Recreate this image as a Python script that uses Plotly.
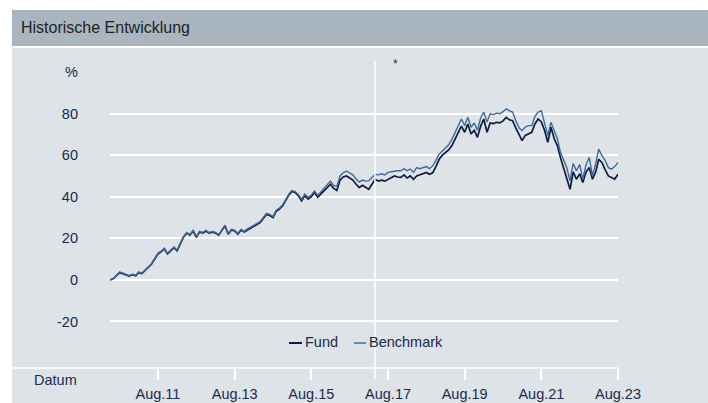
import pandas as pd
import plotly.graph_objects as go

# Month-end observation dates, May 2010 .. Aug 2023
dates = pd.date_range("2010-05-31", "2023-08-31", freq="ME")

# Cumulative performance in %
fund = [
    0.0, 0.5, 2.0, 3.5, 3.0, 2.5, 1.8, 2.5, 2.0, 3.5, 3.0, 4.5,
    6.0, 7.5, 10.0, 12.5, 13.5, 15.0, 12.5, 14.0, 15.5, 14.0, 17.0, 20.5,
    22.5, 21.5, 23.5, 20.5, 23.0, 22.5, 23.5, 22.5, 23.0, 22.5, 21.5, 24.0,
    26.0, 22.0, 24.0, 23.5, 22.0, 24.0, 23.0, 24.0, 25.0, 25.5, 26.5, 27.5,
    29.5, 31.5, 31.0, 30.0, 33.0, 34.0, 35.5, 38.0, 41.0, 42.5, 42.0, 40.5,
    38.0, 40.5, 38.8, 40.0, 42.0, 39.8, 41.5, 43.0, 44.5, 46.0, 44.0, 43.0,
    48.0, 49.5, 50.0, 49.0, 48.0, 46.0, 44.4, 45.5, 44.5, 43.6, 46.0, 48.4,
    47.5, 48.0, 47.5, 48.4, 49.0, 50.0, 49.5, 49.3, 50.5, 49.0, 50.0, 48.4,
    50.0, 50.5, 51.0, 51.7, 50.8, 51.5, 54.5, 58.0, 60.0, 61.0, 62.5, 64.5,
    68.0, 71.0, 74.0, 71.0, 75.0, 70.2, 72.0, 68.6, 74.0, 77.4, 71.0, 75.5,
    75.2, 75.8, 75.5, 76.5, 78.2, 77.0, 76.6, 73.0, 69.5, 67.0, 69.5, 70.2,
    71.0, 75.0, 77.4, 76.0, 72.0, 66.2, 73.4, 68.0, 64.5, 59.0, 54.0, 49.0,
    43.6, 52.0, 48.4, 51.0, 46.8, 52.0, 54.0, 48.4, 52.0, 58.0, 56.5, 53.0,
    50.0, 49.3, 48.5, 50.8,
]
benchmark = [
    0.0, 0.5, 2.0, 3.8, 3.2, 2.7, 2.0, 2.7, 2.2, 3.7, 3.2, 4.8,
    6.3, 7.8, 10.3, 12.8, 13.8, 15.2, 12.8, 14.3, 15.8, 14.3, 17.3, 20.8,
    22.8, 21.8, 23.8, 20.8, 23.3, 22.8, 23.8, 22.8, 23.3, 22.8, 21.8, 24.3,
    26.3, 22.3, 24.3, 23.8, 22.3, 24.3, 23.3, 24.5, 25.5, 26.0, 27.0, 28.0,
    30.0, 32.0, 31.5, 30.5, 33.5, 34.5, 36.0, 38.5, 41.5, 43.0, 42.5, 41.0,
    38.8, 41.3, 39.6, 40.8, 42.8, 40.6, 42.3, 43.8, 45.5, 47.5, 45.5, 45.0,
    50.0, 51.5, 52.4, 51.5, 50.5, 48.5, 47.0, 48.0, 47.5, 47.6, 49.0, 50.8,
    50.5, 51.0, 50.5, 51.7, 52.0, 52.4, 52.5, 52.5, 53.5, 52.5, 53.3, 51.7,
    54.0, 53.5, 54.0, 54.5, 53.5, 54.9, 57.5, 60.5, 62.0, 63.5, 65.0, 67.5,
    71.0, 74.5, 77.4, 74.2, 78.2, 73.4, 75.5, 72.0, 78.0, 80.7, 76.0, 79.9,
    79.5, 80.2, 79.9, 80.9, 82.3, 81.3, 80.7, 76.5, 73.0, 71.8, 73.5, 74.2,
    74.2, 78.5, 80.7, 81.4, 76.0, 69.4, 75.8, 71.5, 67.8, 61.5, 57.5, 54.0,
    47.6, 56.0, 52.5, 55.5, 48.4, 55.5, 58.9, 50.0, 56.0, 62.9, 59.7, 57.5,
    54.0, 53.3, 54.5, 56.5,
]

tick_dates = ["2011-08-31", "2013-08-31", "2015-08-31", "2017-08-31",
              "2019-08-31", "2021-08-31", "2023-08-31"]
tick_labels = ["Aug.11", "Aug.13", "Aug.15", "Aug.17", "Aug.19", "Aug.21", "Aug.23"]

y_ticks = [-20, 0, 20, 40, 60, 80, 100]
y_labels = ["-20", "0", "20", "40", "60", "80", "%"]

marker_date = "2017-04-28"

NAVY = "#1c2a4e"
FUND_COLOR = "#0c1c42"
BENCH_COLOR = "#3f6a9b"
PANEL = "#dde3e7"
HEADER = "#a9b5bf"
FONT = "Liberation Sans, Arial, sans-serif"

W_FIG, H_FIG = 708, 403
L, R, T, B = 110, 90, 72, 35
PW, PH = W_FIG - L - R, H_FIG - T - B


def px_x(px):
    return (px - L) / PW


def px_y(py):
    return (H_FIG - B - py) / PH


fig = go.Figure()
fig.add_trace(go.Scatter(x=dates, y=fund, mode="lines", name="Fund",
                         line=dict(color=FUND_COLOR, width=1.7)))
fig.add_trace(go.Scatter(x=dates, y=benchmark, mode="lines", name="Benchmark",
                         line=dict(color=BENCH_COLOR, width=1.4)))

shapes = [
    # header bar and panel background
    dict(type="rect", xref="paper", yref="paper", x0=px_x(12), x1=px_x(708),
         y0=px_y(46), y1=px_y(10), fillcolor=HEADER, line_width=0, layer="below"),
    dict(type="rect", xref="paper", yref="paper", x0=px_x(12), x1=px_x(708),
         y0=px_y(403), y1=px_y(48), fillcolor=PANEL, line_width=0, layer="below"),
    # baseline of the date axis
    dict(type="line", xref="paper", yref="paper", x0=px_x(12), x1=1,
         y0=0, y1=0, line=dict(color="white", width=1.5), layer="below"),
    # marker line
    dict(type="line", xref="x", yref="paper", x0=marker_date, x1=marker_date,
         y0=px_y(379), y1=px_y(61), line=dict(color="white", width=1.5), layer="above"),
    # legend swatches
    dict(type="line", xref="paper", yref="paper", x0=px_x(289), x1=px_x(302),
         y0=px_y(343), y1=px_y(343), line=dict(color=FUND_COLOR, width=2)),
    dict(type="line", xref="paper", yref="paper", x0=px_x(354), x1=px_x(366),
         y0=px_y(343), y1=px_y(343), line=dict(color=BENCH_COLOR, width=1.5)),
]

annotations = [
    dict(text="Historische Entwicklung", xref="paper", yref="paper",
         x=px_x(19), y=px_y(28), xanchor="left", yanchor="middle", showarrow=False,
         font=dict(size=16, color="#1e1f24")),
    dict(text="Datum", xref="paper", yref="paper", x=px_x(32), y=px_y(380),
         xanchor="left", yanchor="middle", showarrow=False),
    dict(text="*", xref="paper", yref="paper", x=px_x(395), y=px_y(64),
         xanchor="center", yanchor="middle", showarrow=False, font=dict(size=12)),
    dict(text="Fund", xref="paper", yref="paper", x=px_x(303), y=px_y(342),
         xanchor="left", yanchor="middle", showarrow=False),
    dict(text="Benchmark", xref="paper", yref="paper", x=px_x(367), y=px_y(342),
         xanchor="left", yanchor="middle", showarrow=False),
]

fig.update_layout(
    width=W_FIG, height=H_FIG,
    margin=dict(l=L, r=R, t=T, b=B, autoexpand=False),
    paper_bgcolor="white", plot_bgcolor="rgba(0,0,0,0)",
    showlegend=False,
    font=dict(family=FONT, size=14.5, color=NAVY),
    shapes=shapes, annotations=annotations,
    xaxis=dict(range=[dates[0], dates[-1]], tickvals=tick_dates, ticktext=tick_labels,
               showgrid=False, zeroline=False, showline=False,
               ticks="outside", ticklen=11, tickwidth=1.5, tickcolor="white",
               ticklabelstandoff=2, tickfont=dict(size=14.5, color=NAVY)),
    yaxis=dict(range=[-42.4, 100.0], tickvals=y_ticks, ticktext=y_labels,
               showgrid=True, gridcolor="white", gridwidth=1.5,
               zeroline=True, zerolinecolor="white", zerolinewidth=1.5,
               showline=False, ticks="", ticklabelstandoff=31,
               tickfont=dict(size=14.5, color=NAVY)),
)

fig.write_html("out.html")
